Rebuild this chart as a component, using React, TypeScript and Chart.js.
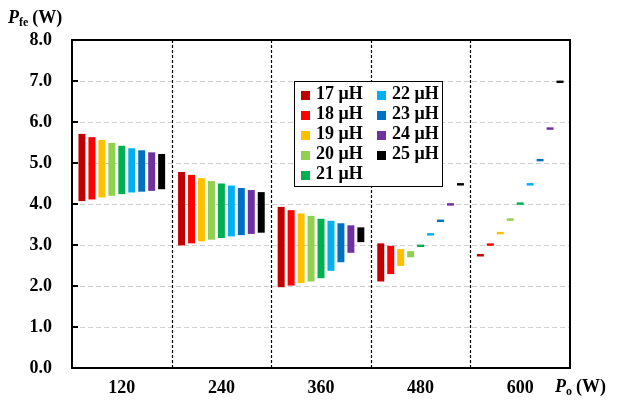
import React, { useEffect, useRef } from "react";
import { Chart, registerables } from "chart.js";

Chart.register(...registerables);

// Output power categories (W)
const categories = ["120", "240", "360", "480", "600"];

// Inductance series
const seriesNames = ["17 μH", "18 μH", "19 μH", "20 μH", "21 μH", "22 μH", "23 μH", "24 μH", "25 μH"];
const seriesColors = ["#C00000", "#FF0000", "#FFC000", "#92D050", "#00B050", "#00B0F0", "#0070C0", "#7030A0", "#000000"];

// Core loss range per series: lower and upper bound (W) at each output power
const low17 = [4.07, 2.99, 1.97, 2.11, 2.72];
const high17 = [5.71, 4.78, 3.93, 3.04, 2.78];
const low18 = [4.11, 3.04, 2.01, 2.29, 2.98];
const high18 = [5.63, 4.71, 3.85, 2.98, 3.04];
const low19 = [4.16, 3.09, 2.07, 2.49, 3.26];
const high19 = [5.56, 4.63, 3.77, 2.9, 3.32];
const low20 = [4.2, 3.13, 2.11, 2.7, 3.59];
const high20 = [5.49, 4.56, 3.71, 2.85, 3.65];
const low21 = [4.24, 3.17, 2.19, 2.95, 3.98];
const high21 = [5.42, 4.5, 3.64, 3.01, 4.04];
const low22 = [4.28, 3.21, 2.37, 3.23, 4.45];
const high22 = [5.36, 4.45, 3.59, 3.29, 4.51];
const low23 = [4.3, 3.24, 2.58, 3.56, 5.04];
const high23 = [5.31, 4.39, 3.53, 3.62, 5.1];
const low24 = [4.32, 3.27, 2.81, 3.96, 5.81];
const high24 = [5.26, 4.34, 3.48, 4.02, 5.87];
const low25 = [4.36, 3.3, 3.07, 4.45, 6.95];
const high25 = [5.22, 4.29, 3.43, 4.51, 7.01];

const lows = [low17, low18, low19, low20, low21, low22, low23, low24, low25];
const highs = [high17, high18, high19, high20, high21, high22, high23, high24, high25];

// Y axis
const yMin = 0;
const yMax = 8;
const yStep = 1;

const FONT = "'Liberation Serif', 'Times New Roman', serif";

const decorPlugin = {
  id: "decor",
  beforeDatasetsDraw(chart: any) {
    const { ctx, chartArea: a, scales } = chart;
    const ys = scales.y;
    const xs = scales.x;
    ctx.save();
    // light dashed horizontal grid
    ctx.strokeStyle = "#d0d0d0";
    ctx.lineWidth = 1;
    ctx.setLineDash([5, 3]);
    for (let v = yMin + yStep; v < yMax; v += yStep) {
      const py = Math.round(ys.getPixelForValue(v)) + 0.5;
      ctx.beginPath();
      ctx.moveTo(a.left, py);
      ctx.lineTo(a.right, py);
      ctx.stroke();
    }
    // dashed separators between power groups
    ctx.strokeStyle = "#000";
    ctx.lineWidth = 1.2;
    ctx.setLineDash([3, 2]);
    for (let i = 1; i < categories.length; i++) {
      const px = Math.round((xs.getPixelForValue(i - 1) + xs.getPixelForValue(i)) / 2) + 0.5;
      ctx.beginPath();
      ctx.moveTo(px, a.top);
      ctx.lineTo(px, a.bottom);
      ctx.stroke();
    }
    ctx.restore();
  },
  afterDatasetsDraw(chart: any) {
    const { ctx, chartArea: a, scales } = chart;
    const ys = scales.y;
    ctx.save();
    ctx.setLineDash([]);
    // plot frame
    ctx.strokeStyle = "#000";
    ctx.lineWidth = 2;
    ctx.strokeRect(a.left, a.top, a.right - a.left, a.bottom - a.top);
    // inward tick marks on the y axis
    for (let v = yMin + yStep; v < yMax; v += yStep) {
      const py = Math.round(ys.getPixelForValue(v));
      ctx.beginPath();
      ctx.moveTo(a.left, py);
      ctx.lineTo(a.left + 6, py);
      ctx.stroke();
    }

    // legend box
    const bx = 294, by = 81, bw = 148, bh = 105;
    ctx.fillStyle = "#fff";
    ctx.fillRect(bx, by, bw, bh);
    ctx.lineWidth = 1;
    ctx.strokeStyle = "#000";
    ctx.strokeRect(bx + 0.5, by + 0.5, bw, bh);
    ctx.font = `bold 18px ${FONT}`;
    ctx.textBaseline = "alphabetic";
    ctx.textAlign = "left";
    seriesNames.forEach((name, i) => {
      const col = i < 5 ? 0 : 1;
      const row = i < 5 ? i : i - 5;
      const mx = col === 0 ? 301 : 377;
      const base = 99 + row * 20;
      ctx.fillStyle = seriesColors[i];
      ctx.fillRect(mx, base - 8, 9, 9);
      ctx.fillStyle = "#000";
      ctx.fillText(name, mx + 15, base);
    });

    // axis titles
    const drawTitle = (x: number, base: number, sub: string) => {
      ctx.fillStyle = "#000";
      ctx.font = `italic bold 18px ${FONT}`;
      ctx.fillText("P", x, base);
      let cx = x + ctx.measureText("P").width;
      ctx.font = `bold 12px ${FONT}`;
      ctx.fillText(sub, cx, base + 3);
      cx += ctx.measureText(sub).width + 4;
      ctx.font = `bold 18px ${FONT}`;
      ctx.fillText("(W)", cx, base);
    };
    drawTitle(8, 23, "fe");
    drawTitle(555, 392, "o");
    ctx.restore();
  },
};

export default function App() {
  const ref = useRef<HTMLCanvasElement | null>(null);

  useEffect(() => {
    if (!ref.current) return;
    const datasets = seriesNames.map((name, i) => ({
      label: name,
      data: categories.map((_, j) => [lows[i][j], highs[i][j]]),
      backgroundColor: seriesColors[i],
      borderWidth: 0,
      categoryPercentage: 0.9,
      barPercentage: 0.7,
    }));
    const chart = new Chart(ref.current, {
      type: "bar",
      data: { labels: categories, datasets: datasets as any },
      options: {
        animation: false,
        responsive: false,
        layout: { padding: { left: 0, top: 40, right: 57, bottom: 0 } },
        plugins: { legend: { display: false }, tooltip: { enabled: false } },
        scales: {
          x: {
            grid: { display: false, drawTicks: false },
            border: { display: false },
            ticks: {
              color: "#000",
              font: { family: FONT, size: 18, weight: "bold" },
              padding: 10,
            },
            afterFit: (s: any) => {
              s.height = 34;
            },
          },
          y: {
            min: yMin,
            max: yMax,
            grid: { display: false, drawTicks: false },
            border: { display: false },
            ticks: {
              stepSize: yStep,
              color: "#000",
              font: { family: FONT, size: 18, weight: "bold" },
              padding: 20,
              callback: (v: any) => Number(v).toFixed(1),
            },
            afterFit: (s: any) => {
              s.width = 72;
            },
          },
        },
      },
      plugins: [decorPlugin],
    });
    return () => chart.destroy();
  }, []);

  return (
    <div style={{ position: "fixed", left: 0, top: 0, width: 627, height: 402, background: "#fff" }}>
      <canvas ref={ref} width={627} height={402} style={{ display: "block" }} />
    </div>
  );
}
